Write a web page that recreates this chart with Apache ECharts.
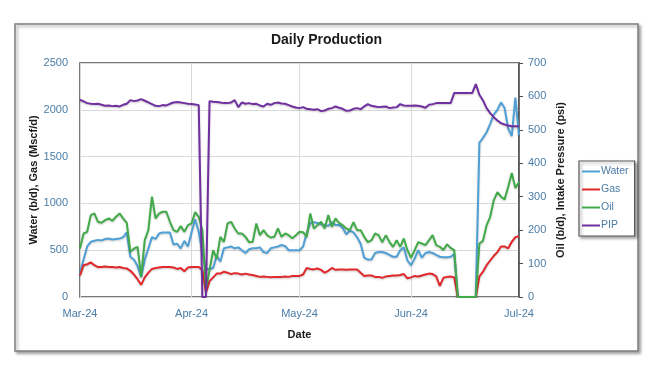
<!DOCTYPE html>
<html><head><meta charset="utf-8">
<script src="https://cdn.jsdelivr.net/npm/echarts@6/dist/echarts.min.js"></script>
<style>html,body{margin:0;padding:0;background:#fff}#c{width:653px;height:368px}</style>
</head><body><div id="c"></div>
<script>
// Daily dates 2024-03-01 .. 2024-07-01
const startDay = Date.UTC(2024, 2, 1);
const dayCount = 123;
const monthNames = ['Jan','Feb','Mar','Apr','May','Jun','Jul','Aug','Sep','Oct','Nov','Dec'];
const dates = [];
for (let i = 0; i < dayCount; i++) {
  const d = new Date(startDay + i * 86400000);
  dates.push(d.toISOString().slice(0, 10));
}

const water = [
  256,400,540,590,600,610,605,620,625,615,620,625,640,690,430,400,330,214,400,520,640,620,680,690,690,690,560,570,520,600,540,
  690,830,700,470,300,300,310,440,380,520,530,540,520,530,500,470,510,520,520,530,480,470,520,530,540,555,545,500,500,500,
  500,540,680,790,800,790,780,770,760,800,770,770,740,670,710,690,640,570,420,400,400,470,480,480,470,450,430,430,500,530,390,
  340,410,500,420,470,480,470,450,430,425,425,430,460,0,0,0,0,0,0,1650,1700,1760,1850,1950,2000,2080,2020,1800,1720,2130,
  1730
];
const gas = [
  230,340,350,370,340,320,320,325,320,320,315,320,310,305,280,240,190,130,210,260,300,310,315,320,320,320,315,300,310,275,315,
  320,320,320,290,45,170,210,250,250,270,260,245,255,250,240,250,240,235,225,215,220,215,210,215,215,215,220,215,225,225,
  225,240,310,300,295,305,290,260,280,310,290,295,295,290,295,295,295,260,225,230,230,215,215,205,220,225,230,230,235,245,200,
  210,225,220,230,240,250,245,220,120,205,215,220,210,0,0,0,0,0,0,220,270,340,390,440,480,540,540,520,590,640,
  650
];
const oil = [
  145,190,195,245,250,225,222,230,235,228,240,250,235,222,135,145,150,60,170,200,300,235,250,255,255,225,200,195,212,195,215,
  220,254,240,200,25,80,140,115,180,165,220,225,205,190,190,180,164,165,220,185,200,185,178,180,205,180,190,185,176,185,
  195,194,180,250,205,215,225,205,245,210,235,222,215,205,200,224,200,200,180,164,170,190,185,164,185,165,150,170,150,175,140,
  117,140,164,160,155,170,185,155,150,141,158,147,140,0,0,0,0,0,0,160,168,215,240,290,314,300,292,330,371,326,
  344
];
const pip = [
  590,585,580,578,577,578,575,572,573,571,572,570,575,578,589,586,588,592,587,582,577,572,571,574,573,578,582,583,582,580,578,
  577,576,574,0,0,586,584,583,582,580,580,582,589,568,582,578,580,577,578,573,570,578,575,580,582,579,578,574,570,567,
  565,568,563,562,560,562,556,558,563,565,570,566,563,557,558,563,565,562,570,577,572,570,568,569,570,565,567,568,577,573,572,
  572,573,572,570,566,575,577,580,580,580,580,580,610,610,610,610,610,610,637,605,588,565,550,538,528,520,516,513,511,
  511,511
];

const leftTicks = {min: 0, max: 2500, interval: 500};
const rightTicks = {min: 0, max: 700, interval: 100};

const labelColor = '#4a7ca6';
const fontFam = '"Liberation Sans", Arial, sans-serif';
const isMonthStart = (idx, val) => val.slice(8, 10) === '01';

const chart = echarts.init(document.getElementById('c'), null, {renderer: 'canvas'});
const lineSeries = (name, data, color, yIdx, z) => ({
  name, type: 'line', data, yAxisIndex: yIdx, showSymbol: false, symbol: 'none',
  z, lineStyle: {color, width: 2, shadowColor: 'rgba(0,0,0,0.22)', shadowBlur: 2, shadowOffsetY: 1},
  itemStyle: {color}
});
chart.setOption({
  animation: false,
  backgroundColor: '#fff',
  textStyle: {fontFamily: fontFam},
  graphic: [{
    type: 'rect', z: -10, silent: true,
    shape: {x: 15, y: 24, width: 623, height: 327},
    style: {fill: '#fff', stroke: '#7f7f7f', lineWidth: 1.5, shadowBlur: 3, shadowColor: 'rgba(0,0,0,0.35)', shadowOffsetX: 2, shadowOffsetY: 2}
  }],
  title: {
    text: 'Daily Production', left: 'center', top: 33, padding: 0,
    textStyle: {fontSize: 14, fontWeight: 'bold', color: '#1a1a1a', fontFamily: fontFam}
  },
  legend: {
    orient: 'vertical', left: 579, top: 161, padding: [5, 6, 5, 3], itemGap: 7,
    itemWidth: 18, itemHeight: 2, icon: 'rect',
    backgroundColor: '#fff', borderColor: '#595959', borderWidth: 1.2,
    shadowBlur: 3, shadowColor: 'rgba(0,0,0,0.35)', shadowOffsetX: 2, shadowOffsetY: 2,
    textStyle: {fontSize: 10.5, color: labelColor, padding: [0, 0, 0, -4]},
    data: ['Water', 'Gas', 'Oil', 'PIP']
  },
  grid: {left: 80, right: 134, top: 63, bottom: 71, show: true, borderColor: '#4d4d4d', borderWidth: 1.5, containLabel: false},
  xAxis: {
    type: 'category', data: dates, boundaryGap: false,
    name: 'Date', nameLocation: 'middle', nameGap: 32,
    nameTextStyle: {fontSize: 11, fontWeight: 'bold', color: '#1a1a1a'},
    axisLine: {show: false}, axisTick: {show: false},
    axisLabel: {
      interval: isMonthStart, margin: 11, fontSize: 11, color: labelColor, showMaxLabel: true,
      formatter: v => monthNames[parseInt(v.slice(5, 7), 10) - 1] + '-' + v.slice(2, 4)
    },
    splitLine: {show: true, interval: isMonthStart, lineStyle: {color: '#d9d9d9', width: 1}}
  },
  yAxis: [{
    type: 'value', position: 'left', min: leftTicks.min, max: leftTicks.max, interval: leftTicks.interval,
    name: 'Water (b/d), Gas (Mscf/d)', nameLocation: 'middle', nameGap: 41, nameRotate: 90, nameMoveOverlap: false,
    nameTextStyle: {fontSize: 11, fontWeight: 'bold', color: '#1a1a1a'},
    axisLine: {show: false}, axisTick: {show: false},
    axisLabel: {margin: 12, fontSize: 11, color: labelColor, formatter: v => String(v)},
    splitLine: {show: true, lineStyle: {color: '#d9d9d9', width: 1}}
  }, {
    type: 'value', position: 'right', min: rightTicks.min, max: rightTicks.max, interval: rightTicks.interval,
    name: 'Oil (b/d), Intake Pressure (psi)', nameLocation: 'middle', nameGap: 36, nameRotate: 90, nameMoveOverlap: false,
    nameTextStyle: {fontSize: 11, fontWeight: 'bold', color: '#1a1a1a'},
    axisLine: {show: true, lineStyle: {color: '#4d4d4d', width: 1.5}},
    axisTick: {show: true, inside: false, length: 4, lineStyle: {color: '#4d4d4d'}},
    axisLabel: {margin: 9, fontSize: 11, color: labelColor, formatter: v => String(v)},
    splitLine: {show: false}
  }],
  series: [
    lineSeries('Water', water, '#4fa0d6', 0, 2),
    lineSeries('Gas', gas, '#e0282d', 0, 3),
    lineSeries('Oil', oil, '#41ab4a', 1, 4),
    lineSeries('PIP', pip, '#7030a0', 1, 5)
  ]
});
</script>
</body></html>
